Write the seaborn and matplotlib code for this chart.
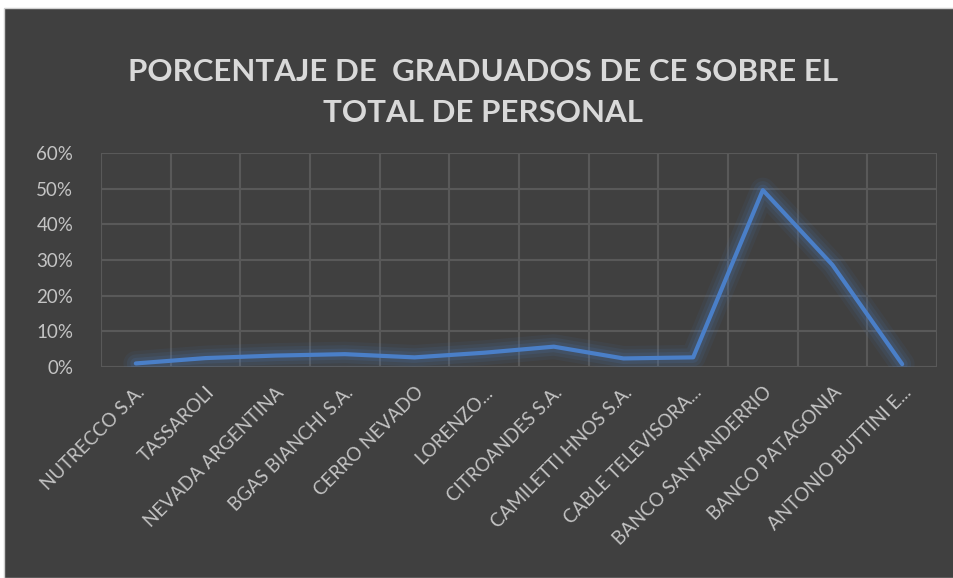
import seaborn as sns
import matplotlib.pyplot as plt
import pandas as pd
from matplotlib.patches import Rectangle
from matplotlib.ticker import PercentFormatter, FixedLocator

empresas = ['NUTRECCO S.A.', 'TASSAROLI', 'NEVADA ARGENTINA', 'BGAS BIANCHI S.A.',
            'CERRO NEVADO', 'LORENZO...', 'CITROANDES S.A.', 'CAMILETTI HNOS S.A.',
            'CABLE TELEVISORA...', 'BANCO SANTANDERRIO', 'BANCO PATAGONIA',
            'ANTONIO BUTTINI E...']
porcentaje = [0.010, 0.025, 0.032, 0.036, 0.027, 0.040, 0.057, 0.024,
              0.027, 0.496, 0.286, 0.008]

df = pd.DataFrame({'empresa': empresas, 'porcentaje': porcentaje})

bg = '#404040'
grid_col = '#595959'
txt_col = '#c4c4c4'
azul = '#4a7fc8'

sns.set_style('dark')
plt.rcParams['font.family'] = ['Lato', 'DejaVu Sans']

fig = plt.figure(figsize=(9.54, 5.78), dpi=100, facecolor='white')
fondo = Rectangle((4 / 954, 0), 1, 1 - 8 / 578, transform=fig.transFigure,
                  facecolor=bg, edgecolor='#d0d0d0', linewidth=1, zorder=-5)
fig.add_artist(fondo)

ax = fig.add_axes([101 / 954, (578 - 367) / 578, 836 / 954, 214 / 578])
ax.set_facecolor(bg)
ax.set_zorder(1)

# brillo alrededor de la linea
for lw, a in [(18, 0.07), (13, 0.10), (8, 0.14)]:
    sns.lineplot(data=df, x='empresa', y='porcentaje', ax=ax, color=azul,
                 linewidth=lw, alpha=a, solid_capstyle='round', solid_joinstyle='round')
sns.lineplot(data=df, x='empresa', y='porcentaje', ax=ax, color=azul,
             linewidth=3, solid_capstyle='round')

ax.set_xlim(-0.5, len(empresas) - 0.5)
ax.set_ylim(0, 0.6)
ax.set_yticks([0, 0.1, 0.2, 0.3, 0.4, 0.5, 0.6])
ax.yaxis.set_major_formatter(PercentFormatter(1.0, decimals=0))
ax.set_xticks(range(len(empresas)))
ax.set_xticklabels(empresas, rotation=45, ha='right', rotation_mode='anchor')
ax.xaxis.set_minor_locator(FixedLocator([i - 0.5 for i in range(len(empresas) + 1)]))

ax.grid(False)
ax.grid(True, which='minor', axis='x', color=grid_col, linewidth=1.5)
ax.grid(True, which='major', axis='y', color=grid_col, linewidth=1.5)
ax.set_axisbelow(True)

ax.tick_params(axis='both', which='both', length=0, colors=txt_col)
ax.tick_params(axis='y', labelsize=13.5, pad=20)
ax.tick_params(axis='x', labelsize=13.5, pad=12)
for s in ax.spines.values():
    s.set_visible(False)
ax.set_xlabel('')
ax.set_ylabel('')

fig.text(483 / 954, 1 - 72 / 578, 'PORCENTAJE DE  GRADUADOS DE CE SOBRE EL',
         ha='center', va='center', fontsize=22.5, fontweight='bold', color='#d9d9d9')
fig.text(483 / 954, 1 - 113 / 578, 'TOTAL DE PERSONAL',
         ha='center', va='center', fontsize=22.5, fontweight='bold', color='#d9d9d9')

fig.savefig('out.png', dpi=100, facecolor=fig.get_facecolor())
